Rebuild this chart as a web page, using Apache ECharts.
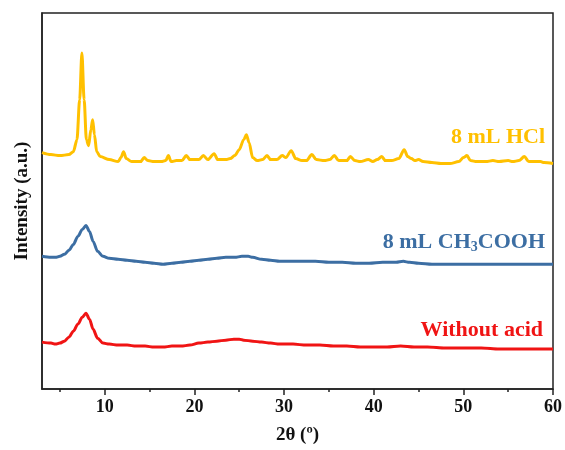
<html>
<head>
    <meta charset='utf-8'/>
    <title>XRD patterns</title>
    <style>
        body {
            margin: 0;
            padding: 0;
        }

        #chart {
            width: 565px;
            height: 450px;
        }
    </style>
</head>
<body>
<div id='chart'></div>
<script type="text/javascript" src="https://cdn.jsdelivr.net/npm/echarts@6/dist/echarts.min.js"></script>
<script type="text/javascript">
    // 2theta (deg) and stacked intensity (arbitrary units, already offset)
    var hclAngle = [3, 4, 5, 6, 6.5, 6.9, 7.2, 7.45, 7.7, 7.95, 8.2, 8.45, 8.65, 8.85, 9.1, 9.5, 10.5, 11.5, 11.8, 12.1, 12.4, 13,
        14, 14.4, 14.8, 15.5, 16.3, 16.8, 17.1, 17.4, 18, 18.6, 19.1, 19.5, 20.5, 21, 21.5, 22.2, 22.6, 23.5, 24, 24.5, 25,
        25.5, 25.8, 26.1, 26.5, 27, 27.6, 28.1, 28.5, 29.2, 29.8, 30.2, 30.8, 31.3, 32, 32.5, 33.1, 33.6, 34.5, 35.1, 35.6,
        36.1, 37, 37.4, 37.9, 38.5, 39.4, 39.9, 40.4, 40.9, 41.3, 42, 42.8, 43.4, 43.8, 44.2, 44.6, 45, 45.5, 46.5, 47.5,
        48.5, 49.5, 50, 50.4, 50.8, 51.5, 52.5, 53.3, 54, 55, 55.5, 56.2, 56.8, 57.3, 58, 58.6, 59, 60];
    var hclValue = [237, 235, 234, 235, 238, 250, 290, 337, 290, 250, 244, 260, 270, 255, 238, 233, 230, 228, 232, 238, 231, 228,
        228, 232, 229, 228, 228, 229, 234, 228, 229, 229, 234, 230, 230, 234, 230, 236, 230, 230, 231, 234, 240,
        250, 255, 247, 232, 229, 230, 234, 230, 230, 234, 232, 239, 231, 229, 229, 235, 230, 229, 230, 234,
        229, 229, 233, 229, 228, 230, 228, 230, 233, 229, 229, 231, 240, 233, 231, 229, 230, 228, 227, 226,
        226, 228, 232, 234, 229, 228, 228, 229, 228, 229, 228, 229, 233, 228, 228, 228, 227, 226];

    var aceticAngle = [3, 4, 4.5, 5, 5.5, 6, 6.5, 7, 7.5, 7.9, 8.3, 8.7, 9.2, 9.8, 10.5, 11.5, 12.5, 13.5, 14.5, 15.5, 16.5,
        17.5, 18.5, 19.5, 20.5, 21.5, 22.5, 23.5, 24.5, 25.3, 26, 26.5, 27.5, 28.5, 29.5, 30.5, 32, 33.5, 35, 36.5, 38,
        39.5, 41, 42.5, 43.3, 44, 45, 46.5, 48, 50, 52, 54, 56, 58, 60];
    var aceticValue = [133, 132, 132, 133, 135, 139, 145, 153, 160, 164, 158, 148, 138, 133, 131, 130, 129, 128, 127, 126, 125,
        126, 127, 128, 129, 130, 131, 132, 132, 133, 133, 132, 130, 129, 128, 128, 128, 128, 127, 127, 126,
        126, 127, 127, 128, 127, 126, 125, 125, 125, 125, 125, 125, 125, 125];

    var noAcidAngle = [3, 4, 4.5, 5, 5.5, 6, 6.5, 7, 7.5, 7.9, 8.3, 8.7, 9.2, 9.8, 10.5, 11.5, 12.5, 13.5, 14.5, 15.5, 16.5,
        17.5, 18.5, 19.5, 20.5, 21.5, 22.5, 23.5, 24.4, 25, 25.5, 26.5, 27.5, 28.5, 29.5, 31, 32.5, 34, 35.5, 37, 38.5,
        40, 41.5, 43, 44.5, 46, 48, 50, 52, 54, 56, 58, 60];
    var noAcidValue = [47, 46, 45, 46, 48, 52, 58, 65, 72, 76, 70, 60, 51, 46, 45, 44, 44, 43, 43, 42, 42,
        43, 43, 44, 46, 47, 48, 49, 50, 50, 49, 48, 47, 46, 45, 45, 44, 44, 43, 43, 42,
        42, 42, 43, 42, 42, 41, 41, 41, 40, 40, 40, 40];

    var majorTicks = [10, 20, 30, 40, 50, 60];
    var minorTicks = [5, 15, 25, 35, 45, 55];

    function pairs(xs, ys) {
        var out = [];
        for (var i = 0; i < xs.length; i++) out.push([xs[i], ys[i]]);
        return out;
    }

    var serif = 'Liberation Serif';
    var chart = echarts.init(document.getElementById('chart'));

    function curve(name, xs, ys, color) {
        return {
            name: name,
            type: 'line',
            data: pairs(xs, ys),
            showSymbol: false,
            smooth: 0.3,
            smoothMonotone: 'x',
            lineStyle: {color: color, width: 3},
            animation: false
        };
    }

    chart.setOption({
        animation: false,
        grid: {
            left: 42, right: 12, top: 13, bottom: 60,
            show: true, borderColor: '#222', borderWidth: 1.5
        },
        xAxis: [{
            type: 'value',
            min: 3,
            max: 60,
            name: '2θ (º)',
            nameLocation: 'middle',
            nameGap: 37,
            nameTextStyle: {fontFamily: serif, fontWeight: 'bold', fontSize: 19, color: '#111'},
            axisLine: {lineStyle: {color: '#222', width: 1.5}},
            axisTick: {customValues: majorTicks, length: 6, lineStyle: {color: '#222', width: 1.5}},
            axisLabel: {customValues: majorTicks, fontFamily: serif, fontWeight: 'bold', fontSize: 18, color: '#111', margin: 9},
            splitLine: {show: false}
        }, {
            type: 'value',
            min: 3,
            max: 60,
            position: 'bottom',
            axisLine: {show: false},
            axisTick: {customValues: minorTicks, length: 3, lineStyle: {color: '#222', width: 1.5}},
            axisLabel: {show: false},
            splitLine: {show: false}
        }],
        yAxis: {
            type: 'value',
            min: 0,
            max: 377,
            name: 'Intensity (a.u.)',
            nameLocation: 'middle',
            nameGap: 10,
            nameTextStyle: {fontFamily: serif, fontWeight: 'bold', fontSize: 19, color: '#111'},
            axisLine: {show: true, lineStyle: {color: '#222', width: 1.5}},
            axisTick: {show: false},
            axisLabel: {show: false},
            splitLine: {show: false}
        },
        series: [
            curve('Without acid', noAcidAngle, noAcidValue, '#F01414'),
            curve('8 mL CH3COOH', aceticAngle, aceticValue, '#3C6EA3'),
            curve('8 mL HCl', hclAngle, hclValue, '#FFC000')
        ],
        graphic: [{
            type: 'text',
            x: 545, y: 137,
            style: {
                text: '8 mL HCl', align: 'right', verticalAlign: 'middle',
                fontFamily: serif, fontWeight: 'bold', fontSize: 22, fill: '#FFC000'
            }
        }, {
            type: 'text',
            x: 545, y: 242,
            style: {
                text: '{a|8 mL CH}{s|3}{a|COOH}', align: 'right', verticalAlign: 'middle',
                rich: {
                    a: {fontFamily: serif, fontWeight: 'bold', fontSize: 22, fill: '#3C6EA3', color: '#3C6EA3'},
                    s: {fontFamily: serif, fontWeight: 'bold', fontSize: 14, fill: '#3C6EA3', color: '#3C6EA3', padding: [10, 0, 0, 0]}
                }
            }
        }, {
            type: 'text',
            x: 543, y: 330,
            style: {
                text: 'Without acid', align: 'right', verticalAlign: 'middle',
                fontFamily: serif, fontWeight: 'bold', fontSize: 22, fill: '#F01414'
            }
        }]
    });
</script>
</body>
</html>
